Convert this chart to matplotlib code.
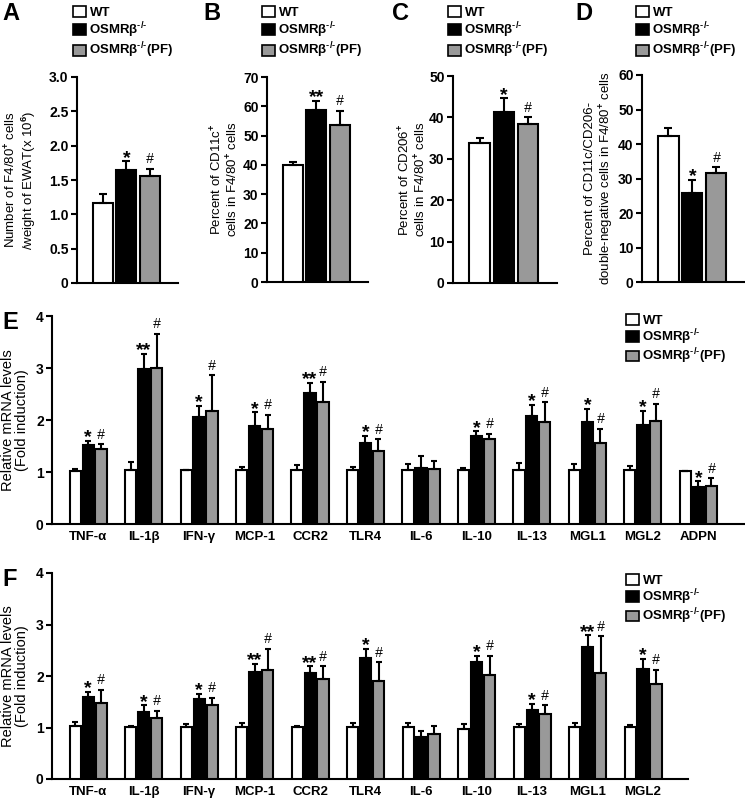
import numpy as np
import matplotlib
matplotlib.use('Agg')
import matplotlib.pyplot as plt
from matplotlib.patches import Patch

plt.rcParams['font.family'] = ['Liberation Sans', 'DejaVu Sans']
plt.rcParams['font.weight'] = 'bold'
plt.rcParams['font.size'] = 10
plt.rcParams['mathtext.fontset'] = 'custom'
plt.rcParams['mathtext.rm'] = 'Liberation Sans:bold'
plt.rcParams['mathtext.bf'] = 'Liberation Sans:bold'
plt.rcParams['mathtext.it'] = 'Liberation Sans:bold'
plt.rcParams['mathtext.default'] = 'bf'
plt.rcParams['axes.linewidth'] = 1.5

# groups
groups = ['WT', r'OSMRβ$^{\text{-/-}}$', r'OSMRβ$^{\text{-/-}}$(PF)']
colors = ['white', 'black', '#999999']

# top panels (mean, upper SEM)
a_mean = [1.16, 1.65, 1.56]
a_err = [0.14, 0.12, 0.10]
b_mean = [40.0, 58.7, 53.7]
b_err = [1.0, 3.1, 4.7]
c_mean = [33.9, 41.2, 38.4]
c_err = [1.1, 3.4, 1.6]
d_mean = [42.2, 25.8, 31.5]
d_err = [2.3, 3.9, 1.7]
top_sig = [['*', '#'], ['**', '#'], ['*', '#'], ['*', '#']]

# panel E
genes_e = ['TNF-α', 'IL-1β', 'IFN-γ', 'MCP-1', 'CCR2', 'TLR4',
           'IL-6', 'IL-10', 'IL-13', 'MGL1', 'MGL2', 'ADPN']
e_wt = [1.01, 1.03, 1.03, 1.03, 1.03, 1.03, 1.03, 1.03, 1.03, 1.03, 1.03, 1.02]
e_wt_err = [0.05, 0.16, 0.01, 0.06, 0.11, 0.06, 0.12, 0.05, 0.14, 0.13, 0.08, 0.0]
e_ko = [1.51, 2.98, 2.06, 1.88, 2.52, 1.55, 1.08, 1.69, 2.07, 1.96, 1.91, 0.71]
e_ko_err = [0.09, 0.29, 0.21, 0.27, 0.19, 0.14, 0.22, 0.09, 0.22, 0.26, 0.26, 0.11]
e_pf = [1.44, 3.00, 2.17, 1.83, 2.34, 1.40, 1.05, 1.63, 1.96, 1.55, 1.98, 0.74]
e_pf_err = [0.09, 0.66, 0.69, 0.27, 0.39, 0.23, 0.17, 0.11, 0.38, 0.28, 0.33, 0.14]
e_ko_sig = ['*', '**', '*', '*', '**', '*', '', '*', '*', '*', '*', '*']
e_pf_sig = ['#', '#', '#', '#', '#', '#', '', '#', '#', '#', '#', '#']

# panel F
genes_f = ['TNF-α', 'IL-1β', 'IFN-γ', 'MCP-1', 'CCR2', 'TLR4',
           'IL-6', 'IL-10', 'IL-13', 'MGL1', 'MGL2']
f_wt = [1.03, 1.01, 1.01, 1.01, 1.01, 1.01, 1.01, 0.98, 1.01, 1.01, 1.01]
f_wt_err = [0.07, 0.02, 0.06, 0.07, 0.02, 0.07, 0.07, 0.08, 0.06, 0.07, 0.04]
f_ko = [1.60, 1.31, 1.55, 2.07, 2.05, 2.35, 0.81, 2.27, 1.34, 2.56, 2.13]
f_ko_err = [0.09, 0.12, 0.10, 0.16, 0.14, 0.18, 0.13, 0.12, 0.12, 0.23, 0.20]
f_pf = [1.48, 1.18, 1.43, 2.11, 1.95, 1.91, 0.88, 2.01, 1.27, 2.06, 1.85]
f_pf_err = [0.25, 0.14, 0.15, 0.42, 0.24, 0.36, 0.15, 0.38, 0.16, 0.71, 0.27]
f_ko_sig = ['*', '*', '*', '**', '**', '*', '', '*', '*', '**', '*']
f_pf_sig = ['#', '#', '#', '#', '#', '#', '', '#', '#', '#', '#']

W, H = 745, 799
fig = plt.figure(figsize=(W / 100, H / 100), dpi=100)


def px_axes(left, top, right, bottom):
    return fig.add_axes([left / W, 1 - bottom / H, (right - left) / W, (bottom - top) / H])


def style(ax):
    ax.spines['top'].set_visible(False)
    ax.spines['right'].set_visible(False)
    ax.set_xticks([])
    ax.tick_params(axis='y', length=4, width=1.5, pad=2, labelsize=10)


def sig(ax, x, y, s):
    if s == '':
        return
    if '*' in s:
        ax.annotate(s, (x, y), xytext=(0, -1), textcoords='offset points',
                    ha='center', va='baseline', fontsize=14, fontweight='bold')
    else:
        ax.annotate(s, (x, y), xytext=(0, 4), textcoords='offset points',
                    ha='center', va='baseline', fontsize=10, fontweight='normal',
                    style='italic')


def legend_at(x, y, spacing=0.1):
    handles = [Patch(facecolor=c, edgecolor='black', linewidth=1.2) for c in colors]
    fig.legend(handles, groups, loc='upper left', bbox_to_anchor=(x / W, 1 - y / H),
               frameon=False, borderpad=0, borderaxespad=0, handlelength=1.0,
               handleheight=0.9, handletextpad=0.25, labelspacing=spacing, fontsize=9.5)


# ---- top row
top_boxes = [(77, 77, 178, 283), (267, 77, 368, 282), (453, 76, 557, 283), (642, 75, 745, 282)]
top_means = [a_mean, b_mean, c_mean, d_mean]
top_errs = [a_err, b_err, c_err, d_err]
top_ylim = [3.0, 70, 50, 60]
top_step = [0.5, 10, 10, 10]
top_labels = ['Number of F4/80$^{+}$ cells\n/weight of EWAT(x 10$^{6}$)',
              'Percent of CD11c$^{+}$\ncells in F4/80$^{+}$ cells',
              'Percent of CD206$^{+}$\ncells in F4/80$^{+}$ cells',
              'Percent of CD11c/CD206-\ndouble-negative cells in F4/80$^{+}$ cells']
label_x = [38, 241, 429, 616]
letters = ['A', 'B', 'C', 'D']
letter_x = [2, 203, 392, 575]
legend_x = [73, 262, 448, 636]

for i in range(4):
    l, t, r, b = top_boxes[i]
    ax = px_axes(l, t, r, b)
    style(ax)
    x = np.arange(3)
    for k in range(3):
        ax.bar(x[k], top_means[i][k], 0.85, color=colors[k], edgecolor='black', linewidth=1.5,
               yerr=[[0], [top_errs[i][k]]],
               error_kw=dict(elinewidth=1.5, capsize=3, capthick=1.5), zorder=3)
    ax.set_xlim(-1.1, 3.2)
    ax.set_ylim(0, top_ylim[i])
    ticks = np.arange(0, top_ylim[i] + top_step[i] / 2, top_step[i])
    ax.set_yticks(ticks)
    if i == 0:
        ax.set_yticklabels(['0'] + ['%.1f' % v for v in ticks[1:]])
    else:
        ax.set_yticklabels(['%d' % v for v in ticks])
    for k in (1, 2):
        sig(ax, x[k], top_means[i][k] + top_errs[i][k], top_sig[i][k - 1])
    ax.set_ylabel(top_labels[i], fontsize=9.5, linespacing=1.1)
    ax.yaxis.set_label_coords((label_x[i] - l) / (r - l), 0.5)
    fig.text(letter_x[i] / W, 1 - 2 / H, letters[i], fontsize=17, fontweight='bold',
             ha='left', va='top')
    legend_at(legend_x[i], 6, spacing=0.08)


# ---- panels E and F
def gene_panel(box, genes, wt, wt_e, ko, ko_e, pf, pf_e, ko_s, pf_s, xmax, letter, ly):
    l, t, r, b = box
    ax = px_axes(l, t, r, b)
    style(ax)
    x = np.arange(len(genes))
    off = 0.234
    w = 0.2
    ek = dict(elinewidth=1.5, capsize=2.5, capthick=1.5)
    zero = np.zeros(len(genes))
    ax.bar(x - off, wt, w, color=colors[0], edgecolor='black', linewidth=1.5,
           yerr=[zero, wt_e], error_kw=ek, zorder=3)
    ax.bar(x, ko, w, color=colors[1], edgecolor='black', linewidth=1.5,
           yerr=[zero, ko_e], error_kw=ek, zorder=3)
    ax.bar(x + off, pf, w, color=colors[2], edgecolor='black', linewidth=1.5,
           yerr=[zero, pf_e], error_kw=ek, zorder=3)
    for j in range(len(genes)):
        sig(ax, x[j], ko[j] + ko_e[j], ko_s[j])
        sig(ax, x[j] + off, pf[j] + pf_e[j], pf_s[j])
    ax.set_xlim(-0.65, xmax)
    ax.set_ylim(0, 4)
    ax.set_yticks([0, 1, 2, 3, 4])
    for j, g in enumerate(genes):
        ax.text(x[j], -0.14, g, ha='center', va='top', fontsize=9.5, fontweight='bold',
                transform=ax.transData)
    ax.set_ylabel('Relative mRNA levels\n(Fold induction)', fontsize=10.5, linespacing=1.0)
    ax.yaxis.set_label_coords((29 - l) / (r - l), 0.5)
    fig.text(2 / W, 1 - (t - 5) / H, letter, fontsize=17, fontweight='bold', ha='left', va='top')
    legend_at(626, ly, spacing=0.0)
    return ax


gene_panel((52, 316, 745, 524), genes_e, e_wt, e_wt_err, e_ko, e_ko_err, e_pf, e_pf_err,
           e_ko_sig, e_pf_sig, 11.84, 'E', 314)
gene_panel((52, 573, 688, 779), genes_f, f_wt, f_wt_err, f_ko, f_ko_err, f_pf, f_pf_err,
           f_ko_sig, f_pf_sig, 10.81, 'F', 574)

fig.savefig('out.png', dpi=100)
